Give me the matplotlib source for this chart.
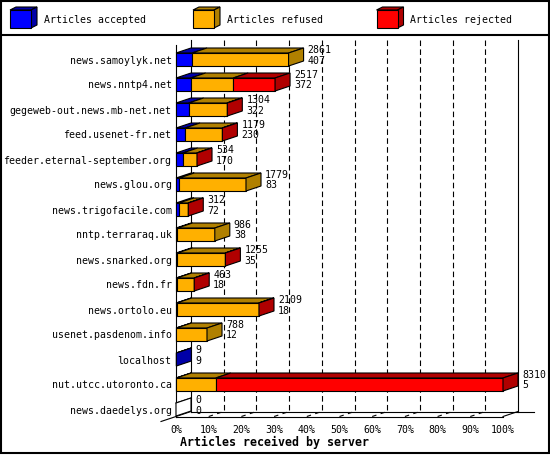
import matplotlib
matplotlib.use('Agg')
import matplotlib.pyplot as plt
from matplotlib.patches import Polygon, Rectangle
import numpy as np

# data
servers = ['news.samoylyk.net', 'news.nntp4.net', 'gegeweb-out.news.mb-net.net',
           'feed.usenet-fr.net', 'feeder.eternal-september.org', 'news.glou.org',
           'news.trigofacile.com', 'nntp.terraraq.uk', 'news.snarked.org',
           'news.fdn.fr', 'news.ortolo.eu', 'usenet.pasdenom.info', 'localhost',
           'nut.utcc.utoronto.ca', 'news.daedelys.org']
accepted = [407, 372, 322, 230, 170, 83, 72, 38, 35, 18, 18, 12, 9, 5, 0]
refused = [2454, 1080, 972, 941, 358, 1696, 236, 948, 1215, 442, 2085, 776, 0, 1005, 0]
rejected = [0, 1065, 10, 8, 6, 0, 4, 0, 5, 3, 6, 0, 0, 7300, 0]
series_names = ['Articles accepted', 'Articles refused', 'Articles rejected']
front_cols = ['#0000ff', '#ffb000', '#ff0000']
dark_cols = ['#0000a8', '#b08000', '#b00000']
xlabel = 'Articles received by server'

W, H = 550, 455
mono = 'DejaVu Sans Mono'
fs = 7.1
lw = 0.8

fig = plt.figure(figsize=(W / 100, H / 100), dpi=100)
fig.patch.set_facecolor('white')

# overlay in pixels for the frame and the legend
lay = fig.add_axes([0, 0, 1, 1], zorder=0)
lay.set_xlim(0, W)
lay.set_ylim(H, 0)
lay.axis('off')
lay.add_patch(Rectangle((0.8, 0.8), W - 2.2, H - 3.0, fill=False, ec='black', lw=1.5))
lay.plot([0, W], [35, 35], color='black', lw=1.5)
for k, (name, fc, dc) in enumerate(zip(series_names, front_cols, dark_cols)):
    x = [10, 193, 376.5][k]
    lay.add_patch(Polygon([(x, 10), (x + 6, 7), (x + 27, 7), (x + 21, 10)], fc=dc, ec='black', lw=lw))
    lay.add_patch(Polygon([(x + 21, 10), (x + 27, 7), (x + 27, 25), (x + 21, 28)], fc=dc, ec='black', lw=lw))
    lay.add_patch(Rectangle((x, 10), 21, 18, fc=fc, ec='black', lw=lw))
    lay.text(x + 34, 20, name, family=mono, fontsize=fs, va='center', ha='left')

# main axes: front plane of the 3d bars
left_px, right_px, top_px, bot_px = 176, 503, 45, 416.5
ax = fig.add_axes([left_px / W, (H - bot_px) / H, (right_px - left_px) / W, (bot_px - top_px) / H],
                  zorder=1)
ax.patch.set_alpha(0)
n = len(servers)
totals = [a + r + j for a, r, j in zip(accepted, refused, rejected)]
xmax = max(totals)
row_px = 25.0
c0 = 59.5
ytop = -(c0 - top_px) / row_px
ybot = (bot_px - c0) / row_px
ax.set_xlim(0, xmax)
ax.set_ylim(ybot, ytop)
for s in ax.spines.values():
    s.set_visible(False)

upx = xmax / (right_px - left_px)   # data units per pixel along x
ddx = 15 * upx
ddy = 5 / row_px
bh = 13 / row_px

ax.set_yticks(range(n), servers, family=mono, fontsize=fs)
ax.set_xticks(np.linspace(0, xmax, 11), ['%d%%' % p for p in range(0, 101, 10)],
              family=mono, fontsize=fs)
ax.tick_params(length=0)
ax.tick_params(axis='y', pad=3.2)
ax.tick_params(axis='x', pad=6.0)

# walls, floor and grid
kw = dict(color='black', lw=lw, clip_on=False, zorder=1)
ax.plot([0, 0], [ytop, ybot], **kw)
ax.plot([ddx, ddx], [ytop - ddy, ybot - ddy], **kw)
ax.plot([xmax + ddx, xmax + ddx], [ytop - ddy, ybot - ddy], **kw)
ax.plot([0, xmax], [ybot, ybot], **kw)
ax.plot([xmax, xmax + ddx], [ybot, ybot - ddy], **kw)
ax.plot([-ddx, ddx], [ybot + ddy, ybot - ddy], **kw)
ax.plot([ddx, xmax + ddx + 16 * upx], [ybot - ddy, ybot - ddy], **kw)
for k in range(1, 10):
    gx = xmax * k / 10
    ax.plot([gx + ddx, gx + ddx], [ytop - ddy, ybot - ddy], ls=(0, (5, 3)), **kw)
    ax.plot([gx, gx + ddx], [ybot, ybot - ddy], ls=(0, (4, 4, 4, 10)), **kw)

# bars
for i in range(n):
    vals = [accepted[i], refused[i], rejected[i]]
    yt = i - bh / 2
    yb = i + bh / 2
    x0 = 0
    side = 'white'
    for v, fc, dc in zip(vals, front_cols, dark_cols):
        if v <= 0:
            continue
        x1 = x0 + v
        ax.add_patch(Polygon([(x0, yt), (x1, yt), (x1 + ddx, yt - ddy), (x0 + ddx, yt - ddy)],
                             fc=dc, ec='black', lw=lw, zorder=3, clip_on=False))
        ax.barh(i, v, left=x0, height=bh, color=fc, edgecolor='black', lw=lw, zorder=4,
                clip_on=False)
        side = dc
        x0 = x1
    xe = totals[i]
    if xe == 0:
        ax.plot([0, ddx], [yt, yt - ddy], color='black', lw=lw, zorder=3, clip_on=False)
    ax.add_patch(Polygon([(xe, yt), (xe + ddx, yt - ddy), (xe + ddx, yb - ddy), (xe, yb)],
                         fc=side, ec='black', lw=lw, zorder=5, clip_on=False))
    tx = xe + ddx + 4 * upx
    ax.text(tx, i - 9.5 / row_px, str(totals[i]), family=mono, fontsize=fs,
            va='center', ha='left', zorder=6)
    ax.text(tx, i + 1 / row_px, str(accepted[i]), family=mono, fontsize=fs,
            va='center', ha='left', zorder=6)

fig.text(180 / W, 1 - 442 / H, xlabel, family=mono, fontweight='bold', fontsize=8.4,
         va='center', ha='left')

fig.savefig('out.png', dpi=100, facecolor='white')
